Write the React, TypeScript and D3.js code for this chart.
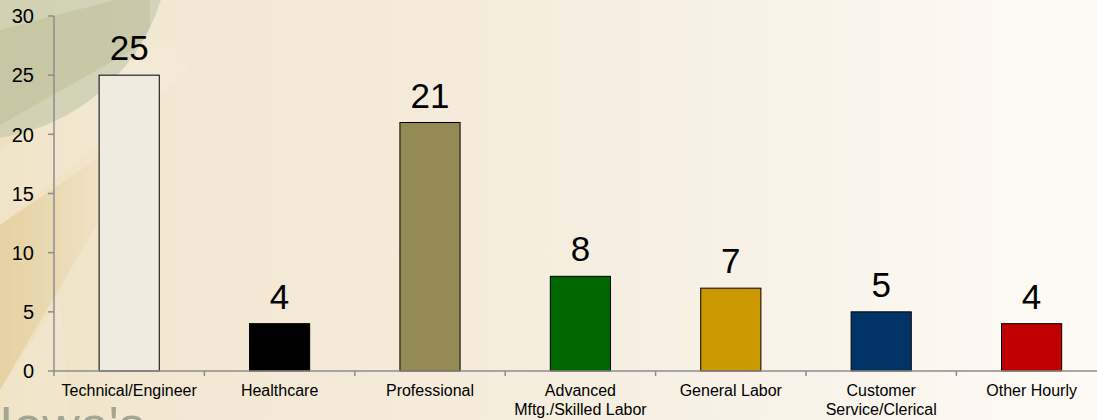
import React, { useEffect } from "react";
import * as d3 from "d3";

const categories: string[][] = [
  ["Technical/Engineer"],
  ["Healthcare"],
  ["Professional"],
  ["Advanced", "Mftg./Skilled Labor"],
  ["General Labor"],
  ["Customer", "Service/Clerical"],
  ["Other Hourly"],
];
const values: number[] = [25, 4, 21, 8, 7, 5, 4];
const barColors: string[] = ["#efebdf", "#000000", "#948a54", "#006600", "#cc9900", "#003366", "#c00000"];
const yTicks: number[] = [0, 5, 10, 15, 20, 25, 30];

const W = 1097;
const H = 420;
const FONT = "'Liberation Sans', Arial, Helvetica, sans-serif";

export default function App() {
  useEffect(() => {
    document.body.style.margin = "0";
  }, []);

  const keys = categories.map((c) => c.join(" "));
  const x = d3.scaleBand<string>().domain(keys).range([54, 54 + 7 * 150.4]).padding(0);
  const y = d3.scaleLinear().domain([0, 30]).range([371, 16]);
  const barW = x.bandwidth() * 0.4;

  return (
    <svg width={W} height={H} style={{ display: "block" }} fontFamily={FONT}>
      <defs>
        <linearGradient id="bg" x1="0" y1="0" x2="1" y2="0">
          <stop offset="0" stopColor="#eee0bf" />
          <stop offset="0.12" stopColor="#f2e7d1" />
          <stop offset="0.4" stopColor="#f4ebda" />
          <stop offset="0.7" stopColor="#f8f2e7" />
          <stop offset="0.88" stopColor="#fcf8f1" />
          <stop offset="1" stopColor="#fdfaf5" />
        </linearGradient>
        <linearGradient id="band" x1="0" y1="0" x2="1" y2="0">
          <stop offset="0" stopColor="#e2cd98" stopOpacity="0.75" />
          <stop offset="1" stopColor="#e2cd98" stopOpacity="0" />
        </linearGradient>
        <clipPath id="circ">
          <circle cx={-30} cy={-60} r={200} />
        </clipPath>
      </defs>
      <rect x={0} y={0} width={W} height={H} fill="url(#bg)" />
      {/* decorative background shapes */}
      <path d="M0,225 L110,150 L120,185 L0,390 Z" fill="url(#band)" />
      <path d="M0,150 L165,40 L190,70 L0,225 Z" fill="#f8f0de" opacity={0.25} />
      <path d="M0,390 L60,300 L70,420 L0,420 Z" fill="#f6eedc" opacity={0.3} />
      <circle cx={-30} cy={-60} r={200} fill="#bec6aa" opacity={0.6} />
      <path d="M0,30 L115,0 L150,0 L150,40 L0,125 Z" fill="#b3af86" opacity={0.3} clipPath="url(#circ)" />
      <text x={-1} y={443} fontSize={52} fill="#a3a693" fontFamily={FONT}>
        Iowa's
      </text>

      {/* bars */}
      {values.map((v, i) => (
        <rect
          key={keys[i]}
          x={(x(keys[i]) as number) + (x.bandwidth() - barW) / 2}
          y={y(v)}
          width={barW}
          height={y(0) - y(v)}
          fill={barColors[i]}
          stroke="#000"
          strokeWidth={1}
        />
      ))}

      {/* axes */}
      <line x1={54} x2={54} y1={y(30)} y2={y(0)} stroke="#8c8c8c" strokeWidth={1.5} />
      <line x1={54} x2={1107} y1={y(0)} y2={y(0)} stroke="#8c8c8c" strokeWidth={1.5} />
      {yTicks.map((t) => (
        <g key={t}>
          <line x1={48} x2={54} y1={y(t)} y2={y(t)} stroke="#8c8c8c" strokeWidth={1.5} />
          <text x={34} y={y(t)} dy="0.36em" textAnchor="end" fontSize={20} fill="#000">
            {t}
          </text>
        </g>
      ))}
      {keys.concat([""]).map((k, i) => {
        const xx = 54 + i * x.step();
        return <line key={"t" + i} x1={xx} x2={xx} y1={y(0)} y2={y(0) + 5} stroke="#8c8c8c" strokeWidth={1.5} />;
      })}

      {/* category labels */}
      {categories.map((lines, i) => (
        <text
          key={"c" + i}
          x={(x(keys[i]) as number) + x.bandwidth() / 2}
          y={396}
          textAnchor="middle"
          fontSize={16}
          fill="#000"
        >
          {lines.map((l, j) => (
            <tspan key={j} x={(x(keys[i]) as number) + x.bandwidth() / 2} dy={j === 0 ? 0 : 18.5}>
              {l}
            </tspan>
          ))}
        </text>
      ))}

      {/* value labels */}
      {values.map((v, i) => (
        <text
          key={"v" + i}
          x={(x(keys[i]) as number) + x.bandwidth() / 2}
          y={y(v) - 15}
          textAnchor="middle"
          fontSize={35}
          fill="#000"
        >
          {v}
        </text>
      ))}
    </svg>
  );
}
